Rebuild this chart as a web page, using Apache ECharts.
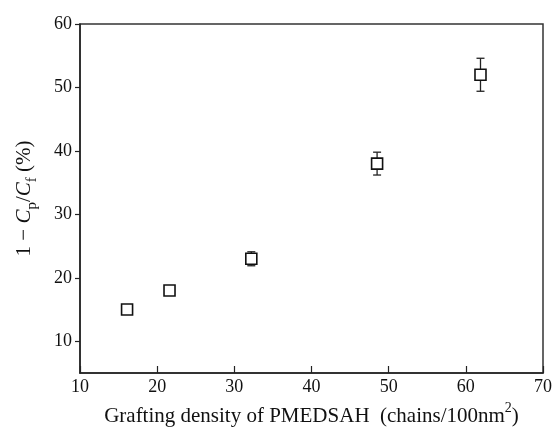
<!DOCTYPE html>
<html><head><meta charset="utf-8">
<script src="https://cdn.jsdelivr.net/npm/echarts@6/dist/echarts.min.js"></script>
<style>html,body{margin:0;padding:0;background:#fff}#c{width:553px;height:430px}</style>
</head><body><div id="c"></div>
<script>
const xValues = [16.1, 21.6, 32.2, 48.5, 61.9];
const yValues = [15.0, 18.0, 23.0, 38.0, 52.0];
const yErrors = [0.5, 0.5, 1.1, 1.8, 2.6];
const xTicks = [10, 20, 30, 40, 50, 60, 70];
const yTicks = [10, 20, 30, 40, 50, 60];

const F = '"Liberation Serif", "Times New Roman", serif';
const pts = xValues.map((x, i) => [x, yValues[i]]);
const errData = xValues.map((x, i) => [x, yValues[i] - yErrors[i], yValues[i] + yErrors[i]]);

const chart = echarts.init(document.getElementById('c'), null, {renderer: 'canvas'});
chart.setOption({
  animation: false,
  backgroundColor: '#fff',
  grid: {left: 80, right: 10, top: 24, bottom: 57, outerBoundsMode: 'none', containLabel: false,
         show: true, borderColor: '#333', borderWidth: 1.5, backgroundColor: 'transparent'},
  xAxis: {
    type: 'value', min: 10, max: 70, interval: 10,
    axisLine: {show: true, lineStyle: {color: '#222', width: 1.5}},
    axisTick: {show: true, inside: true, length: 7, lineStyle: {color: '#222', width: 1.2}, customValues: xTicks},
    axisLabel: {margin: 5, fontFamily: F, fontSize: 18, color: '#111', customValues: xTicks},
    splitLine: {show: false},
    name: '{n|Grafting density of PMEDSAH  (chains/100nm}{sup|2}{n|)}',
    nameLocation: 'middle', nameGap: 22,
    nameTextStyle: {rich: {
      n: {fontFamily: F, fontSize: 21, color: '#111', lineHeight: 26, verticalAlign: 'bottom'},
      sup: {fontFamily: F, fontSize: 14, color: '#111', lineHeight: 16, verticalAlign: 'top'}
    }}
  },
  yAxis: {
    type: 'value', min: 5, max: 60,
    axisLine: {show: true, lineStyle: {color: '#222', width: 1.5}},
    axisTick: {show: true, inside: false, length: 5, lineStyle: {color: '#222', width: 1.2}, customValues: yTicks},
    axisLabel: {margin: 8, fontFamily: F, fontSize: 18, color: '#111', customValues: yTicks},
    splitLine: {show: false},
    name: '{n|1 − }{i|C}{s|p}{n|/}{i|C}{s|f}{n| (%)}',
    nameLocation: 'middle', nameGap: 40, nameRotate: 90,
    nameTextStyle: {rich: {
      n: {fontFamily: F, fontSize: 21, color: '#111', lineHeight: 26, verticalAlign: 'top'},
      i: {fontFamily: F, fontSize: 21, fontStyle: 'italic', color: '#111', lineHeight: 26, verticalAlign: 'top'},
      s: {fontFamily: F, fontSize: 15, color: '#111', lineHeight: 16, verticalAlign: 'bottom'}
    }}
  },
  series: [
    {
      type: 'custom', z: 2,
      data: errData,
      encode: {x: 0, y: [1, 2]},
      renderItem: function (params, api) {
        const x = api.value(0);
        const lo = api.coord([x, api.value(1)]);
        const hi = api.coord([x, api.value(2)]);
        const w = 4;
        const st = {stroke: '#222', lineWidth: 1.3, fill: null};
        return {type: 'group', children: [
          {type: 'line', shape: {x1: lo[0], y1: lo[1], x2: hi[0], y2: hi[1]}, style: st},
          {type: 'line', shape: {x1: lo[0] - w, y1: lo[1], x2: lo[0] + w, y2: lo[1]}, style: st},
          {type: 'line', shape: {x1: hi[0] - w, y1: hi[1], x2: hi[0] + w, y2: hi[1]}, style: st}
        ]};
      }
    },
    {
      type: 'scatter', z: 5,
      data: pts,
      symbol: 'rect', symbolSize: 11,
      itemStyle: {color: '#fff', borderColor: '#111', borderWidth: 1.6, opacity: 1}
    }
  ]
});
</script></body></html>
